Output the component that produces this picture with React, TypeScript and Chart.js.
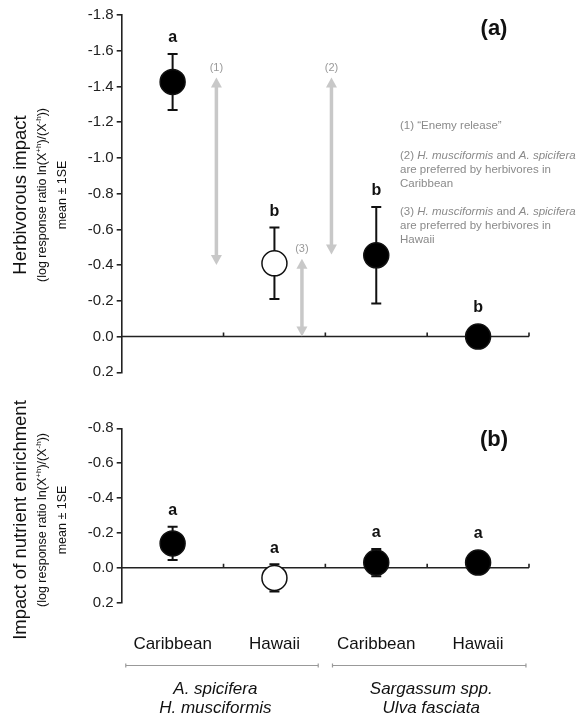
import React, { useEffect, useRef } from 'react';
import { Chart, registerables } from 'chart.js';

Chart.register(...registerables);

const FONT = '"Liberation Sans", Arial, Helvetica, sans-serif';

// ---------- data ----------
const categories = ['Caribbean', 'Hawaii', 'Caribbean', 'Hawaii'];
const catX = [0.5, 1.5, 2.5, 3.5];
const filled = [true, false, true, true];

const herbMean = [-1.425, -0.41, -0.455, 0];
const herbSE = [0.157, 0.2, 0.27, 0];
const herbLetters = ['a', 'b', 'b', 'b'];
const herbMin = -1.8;
const herbMax = 0.2;

const nutMean = [-0.14, 0.058, -0.03, -0.03];
const nutSE = [0.095, 0.078, 0.078, 0.02];
const nutLetters = ['a', 'a', 'a', 'a'];
const nutMin = -0.8;
const nutMax = 0.2;

const tickStep = 0.2;

const arrowX = [0.93, 2.06, 1.77];
const arrowFrom = [-1.45, -1.45, -0.435];
const arrowTo = [-0.4, -0.46, 0];
const arrowLabels = ['(1)', '(2)', '(3)'];

const groupNames = [
  ['A. spicifera', 'H. musciformis'],
  ['Sargassum spp.', 'Ulva fasciata'],
];
const groupFrom = [0.04, 2.07];
const groupTo = [1.93, 3.97];
const groupLabelX = [0.92, 3.04];

const noteLines: [string, boolean][][] = [
  [['(1) \u201CEnemy release\u201D', false]],
  [['(2) ', false], ['H. musciformis', true], [' and ', false], ['A. spicifera', true]],
  [['are preferred by herbivores in', false]],
  [['Caribbean', false]],
  [['(3) ', false], ['H. musciformis', true], [' and ', false], ['A. spicifera', true]],
  [['are preferred by herbivores in', false]],
  [['Hawaii', false]],
];

// ---------- drawing helpers ----------
type Seg = { t: string; size: number; bold?: boolean; italic?: boolean; dy?: number };

function fontOf(s: Seg) {
  return `${s.italic ? 'italic ' : ''}${s.bold ? 'bold ' : ''}${s.size}px ${FONT}`;
}

function drawSegs(ctx: CanvasRenderingContext2D, segs: Seg[], x: number, y: number, center: boolean) {
  const widths = segs.map((s) => {
    ctx.font = fontOf(s);
    return ctx.measureText(s.t).width;
  });
  const total = widths.reduce((a, b) => a + b, 0);
  let cx = center ? x - total / 2 : x;
  ctx.textAlign = 'left';
  segs.forEach((s, i) => {
    ctx.font = fontOf(s);
    ctx.fillText(s.t, cx, y + (s.dy || 0));
    cx += widths[i];
  });
}

function drawRotated(ctx: CanvasRenderingContext2D, segs: Seg[], cx: number, cy: number) {
  ctx.save();
  ctx.translate(cx, cy);
  ctx.rotate(-Math.PI / 2);
  drawSegs(ctx, segs, 0, 0, true);
  ctx.restore();
}

const subTitle: Seg[] = [
  { t: '(log response ratio ln(X', size: 12.5 },
  { t: '+h', size: 8, dy: -4 },
  { t: ')/(X', size: 12.5 },
  { t: '-h', size: 8, dy: -4 },
  { t: '))', size: 12.5 },
];

type Panel = {
  mean: number[];
  se: number[];
  letters: string[];
  min: number;
  max: number;
  padTop: number;
  padBottom: number;
  title: string;
  titleY: number;
  label: string;
  labelY: number;
  arrows: boolean;
  notes: boolean;
  xLabels: boolean;
};

const AXIS_LEFT = 121.7;
const RADIUS = 12.5;

function makePlugin(p: Panel) {
  return {
    id: 'panelDecor',
    beforeDatasetsDraw(chart: any) {
      const ctx: CanvasRenderingContext2D = chart.ctx;
      const xs = chart.scales.x;
      const ys = chart.scales.y;
      const area = chart.chartArea;
      ctx.save();
      // horizontal axis at zero
      const y0 = ys.getPixelForValue(0);
      ctx.strokeStyle = '#222';
      ctx.lineWidth = 1.6;
      ctx.beginPath();
      ctx.moveTo(area.left, y0);
      ctx.lineTo(xs.getPixelForValue(4), y0);
      for (let k = 1; k <= 4; k++) {
        const px = xs.getPixelForValue(k);
        ctx.moveTo(px, y0);
        ctx.lineTo(px, y0 - 4);
      }
      ctx.stroke();

      // arrows
      if (p.arrows) {
        ctx.strokeStyle = '#c8c8c8';
        ctx.fillStyle = '#c8c8c8';
        ctx.lineWidth = 3.5;
        arrowX.forEach((ax, i) => {
          const px = xs.getPixelForValue(ax);
          const yt = ys.getPixelForValue(arrowFrom[i]);
          const yb = ys.getPixelForValue(arrowTo[i]);
          const hl = 10;
          const hw = 5.5;
          ctx.beginPath();
          ctx.moveTo(px, yt + hl - 1);
          ctx.lineTo(px, yb - hl + 1);
          ctx.stroke();
          ctx.beginPath();
          ctx.moveTo(px, yt);
          ctx.lineTo(px - hw, yt + hl);
          ctx.lineTo(px + hw, yt + hl);
          ctx.closePath();
          ctx.fill();
          ctx.beginPath();
          ctx.moveTo(px, yb);
          ctx.lineTo(px - hw, yb - hl);
          ctx.lineTo(px + hw, yb - hl);
          ctx.closePath();
          ctx.fill();
          ctx.fillStyle = '#999';
          ctx.font = `11px ${FONT}`;
          ctx.textAlign = 'center';
          ctx.textBaseline = 'middle';
          ctx.fillText(arrowLabels[i], px, yt - 10);
          ctx.fillStyle = '#c8c8c8';
        });
      }

      // error bars
      ctx.strokeStyle = '#111';
      ctx.lineWidth = 2;
      p.mean.forEach((m, i) => {
        if (!p.se[i]) return;
        const px = xs.getPixelForValue(catX[i]);
        const yt = ys.getPixelForValue(m - p.se[i]);
        const yb = ys.getPixelForValue(m + p.se[i]);
        ctx.beginPath();
        ctx.moveTo(px, yt);
        ctx.lineTo(px, yb);
        ctx.moveTo(px - 5, yt);
        ctx.lineTo(px + 5, yt);
        ctx.moveTo(px - 5, yb);
        ctx.lineTo(px + 5, yb);
        ctx.stroke();
      });
      ctx.restore();
    },
    afterDatasetsDraw(chart: any) {
      const ctx: CanvasRenderingContext2D = chart.ctx;
      const xs = chart.scales.x;
      const ys = chart.scales.y;
      ctx.save();
      ctx.textBaseline = 'middle';

      // significance letters
      ctx.fillStyle = '#111';
      ctx.font = `bold 16px ${FONT}`;
      ctx.textAlign = 'center';
      p.mean.forEach((m, i) => {
        const px = xs.getPixelForValue(catX[i]);
        const top = Math.min(ys.getPixelForValue(m - p.se[i]), ys.getPixelForValue(m) - RADIUS);
        ctx.fillText(p.letters[i], px, top - 16);
      });

      // panel label
      ctx.font = `bold 22px ${FONT}`;
      ctx.fillText(p.label, 494, p.labelY);

      // axis titles
      ctx.fillStyle = '#111';
      drawRotated(ctx, [{ t: p.title, size: 18.5 }], 21, p.titleY);
      drawRotated(ctx, subTitle, 43, p.titleY);
      drawRotated(ctx, [{ t: 'mean \u00B1 1SE', size: 12.5 }], 63, p.titleY);

      // notes
      if (p.notes) {
        ctx.fillStyle = '#8a8a8a';
        const noteY = [126, 156, 170, 184, 212, 226, 240];
        noteLines.forEach((line, i) => {
          drawSegs(
            ctx,
            line.map(([t, it]) => ({ t, size: 11.5, italic: it })),
            400,
            noteY[i],
            false
          );
        });
      }

      // category labels, brackets, group names
      if (p.xLabels) {
        ctx.fillStyle = '#111';
        ctx.font = `17px ${FONT}`;
        ctx.textAlign = 'center';
        categories.forEach((c, i) => {
          ctx.fillText(c, xs.getPixelForValue(catX[i]), 644);
        });
        ctx.strokeStyle = '#999';
        ctx.lineWidth = 1.2;
        groupFrom.forEach((g, i) => {
          const x1 = xs.getPixelForValue(g);
          const x2 = xs.getPixelForValue(groupTo[i]);
          ctx.beginPath();
          ctx.moveTo(x1, 665.5);
          ctx.lineTo(x2, 665.5);
          ctx.moveTo(x1, 663.5);
          ctx.lineTo(x1, 667.5);
          ctx.moveTo(x2, 663.5);
          ctx.lineTo(x2, 667.5);
          ctx.stroke();
          ctx.fillStyle = '#111';
          ctx.font = `italic 17px ${FONT}`;
          ctx.textAlign = 'center';
          ctx.fillText(groupNames[i][0], xs.getPixelForValue(groupLabelX[i]), 689);
          ctx.fillText(groupNames[i][1], xs.getPixelForValue(groupLabelX[i]), 708);
        });
      }
      ctx.restore();
    },
  };
}

function buildConfig(p: Panel): any {
  return {
    type: 'scatter',
    data: {
      datasets: [
        {
          data: catX.map((x, i) => ({ x, y: p.mean[i] })),
          pointRadius: RADIUS,
          pointHoverRadius: RADIUS,
          pointBackgroundColor: filled.map((f) => (f ? '#000' : '#fff')),
          pointBorderColor: '#111',
          pointBorderWidth: 1.5,
          showLine: false,
        },
      ],
    },
    options: {
      responsive: false,
      maintainAspectRatio: false,
      animation: false,
      devicePixelRatio: 1,
      events: [],
      layout: { padding: { left: 0, right: 50, top: p.padTop, bottom: p.padBottom } },
      plugins: { legend: { display: false }, tooltip: { enabled: false } },
      scales: {
        x: { type: 'linear', min: 0, max: 4, display: false },
        y: {
          type: 'linear',
          min: p.min,
          max: p.max,
          reverse: true,
          afterFit: (s: any) => {
            s.width = AXIS_LEFT;
          },
          ticks: {
            stepSize: tickStep,
            color: '#222',
            padding: 3,
            font: { family: FONT, size: 15 },
            callback: (v: any) => Number(v).toFixed(1),
          },
          grid: {
            drawOnChartArea: false,
            drawTicks: true,
            tickLength: 5,
            color: '#222',
            lineWidth: 1.6,
          },
          border: { display: true, color: '#222', width: 1.6 },
        },
      },
    },
    plugins: [makePlugin(p)],
  };
}

const topPanel: Panel = {
  mean: herbMean,
  se: herbSE,
  letters: herbLetters,
  min: herbMin,
  max: herbMax,
  padTop: 15,
  padBottom: 717 - 372.3,
  title: 'Herbivorous impact',
  titleY: 195,
  label: '(a)',
  labelY: 29,
  arrows: true,
  notes: true,
  xLabels: false,
};

const bottomPanel: Panel = {
  mean: nutMean,
  se: nutSE,
  letters: nutLetters,
  min: nutMin,
  max: nutMax,
  padTop: 428.3,
  padBottom: 717 - 602.7,
  title: 'Impact of nutrient enrichment',
  titleY: 520,
  label: '(b)',
  labelY: 440,
  arrows: false,
  notes: false,
  xLabels: true,
};

export default function App() {
  const topRef = useRef<HTMLCanvasElement>(null);
  const botRef = useRef<HTMLCanvasElement>(null);

  useEffect(() => {
    const c1 = new Chart(topRef.current as HTMLCanvasElement, buildConfig(topPanel));
    const c2 = new Chart(botRef.current as HTMLCanvasElement, buildConfig(bottomPanel));
    return () => {
      c1.destroy();
      c2.destroy();
    };
  }, []);

  const cs: React.CSSProperties = { position: 'absolute', left: 0, top: 0, width: 579, height: 717 };
  return (
    <div style={{ position: 'fixed', left: 0, top: 0, width: 579, height: 717, background: '#fff' }}>
      <canvas ref={topRef} width={579} height={717} style={cs} />
      <canvas ref={botRef} width={579} height={717} style={cs} />
    </div>
  );
}
